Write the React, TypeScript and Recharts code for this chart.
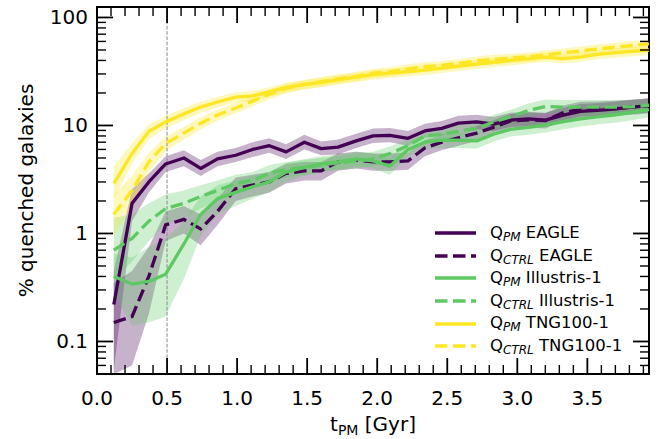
import React from 'react';
import { ComposedChart, Line, Area, XAxis, YAxis, ReferenceLine, ReferenceArea, Legend } from 'recharts';

// ---------- data ----------
const tPM = [0.12, 0.25, 0.37, 0.49, 0.62, 0.74, 0.86, 0.99, 1.11, 1.23, 1.35, 1.48, 1.60, 1.72, 1.85, 1.97,
  2.09, 2.22, 2.34, 2.46, 2.58, 2.71, 2.83, 2.95, 3.08, 3.20, 3.32, 3.45, 3.57, 3.69, 3.82, 3.94];

const eaglePM = [0.22, 1.9, 3.0, 4.4, 5.0, 4.0, 4.9, 5.3, 6.0, 6.5, 5.7, 7.0, 6.1, 6.3, 7.2, 8.0,
  8.1, 7.6, 8.9, 9.4, 10.5, 10.8, 10.3, 11.2, 11.5, 11.2, 12.4, 13.5, 13.8, 14.2, 14.8, 15.3];
const eaglePMLo = [0.055, 1.3, 2.4, 3.7, 4.2, 3.4, 4.2, 4.6, 5.1, 5.6, 4.9, 6.0, 5.3, 5.4, 6.2, 6.9,
  7.0, 6.5, 7.7, 8.1, 9.1, 9.3, 8.9, 9.7, 9.9, 9.7, 10.7, 11.7, 11.9, 12.3, 12.8, 13.2];
const eaglePMHi = [0.45, 2.6, 3.6, 5.2, 5.9, 4.8, 5.7, 6.2, 7.0, 7.6, 6.7, 8.2, 7.1, 7.4, 8.4, 9.4,
  9.5, 8.9, 10.4, 11.0, 12.3, 12.6, 12.0, 13.1, 13.4, 13.1, 14.5, 15.8, 16.1, 16.6, 17.3, 17.9];

const eagleCTRL = [0.15, 0.17, 0.4, 1.2, 1.35, 1.1, 1.6, 2.6, 2.8, 3.0, 3.6, 3.8, 3.8, 4.6, 4.8, 4.6,
  4.6, 4.7, 6.2, 7.0, 7.7, 8.5, 9.6, 11.0, 11.3, 11.1, 13.0, 14.2, 14.3, 14.5, 14.8, 15.2];
const eagleCTRLLo = [0.05, 0.06, 0.18, 0.85, 1.0, 0.78, 1.2, 2.0, 2.2, 2.4, 2.9, 3.1, 3.1, 3.8, 4.0, 3.8,
  3.8, 3.9, 5.2, 5.9, 6.5, 7.2, 8.1, 9.3, 9.6, 9.4, 11.0, 12.1, 12.2, 12.4, 12.6, 13.0];
const eagleCTRLHi = [0.35, 0.45, 0.75, 1.6, 1.8, 1.5, 2.1, 3.3, 3.5, 3.7, 4.4, 4.6, 4.6, 5.5, 5.7, 5.5,
  5.5, 5.6, 7.3, 8.2, 9.0, 9.9, 11.2, 12.8, 13.2, 13.0, 15.2, 16.6, 16.7, 16.9, 17.3, 17.8];

const illPM = [0.40, 0.34, 0.36, 0.42, 0.8, 1.5, 2.1, 2.4, 2.7, 3.0, 3.7, 4.1, 4.4, 4.6, 4.9, 4.7,
  4.2, 6.0, 7.0, 7.3, 7.3, 7.2, 8.3, 9.2, 9.6, 10.1, 10.8, 11.5, 12.0, 12.5, 13.2, 14.0];
const illPMLo = [0.28, 0.14, 0.15, 0.17, 0.38, 0.95, 1.5, 1.8, 2.1, 2.4, 3.0, 3.4, 3.7, 3.9, 4.2, 4.0,
  3.5, 5.1, 6.0, 6.2, 6.2, 6.1, 7.1, 7.9, 8.2, 8.6, 9.2, 9.8, 10.2, 10.6, 11.2, 11.9];
const illPMHi = [0.65, 0.6, 0.75, 0.9, 1.3, 2.2, 2.8, 3.1, 3.4, 3.7, 4.5, 4.9, 5.2, 5.4, 5.7, 5.5,
  5.0, 7.0, 8.2, 8.5, 8.5, 8.4, 9.7, 10.7, 11.2, 11.8, 12.6, 13.4, 14.0, 14.6, 15.4, 16.3];

const illCTRL = [0.7, 0.9, 1.3, 1.7, 1.9, 2.2, 2.5, 2.9, 3.1, 3.6, 3.9, 4.1, 4.3, 4.5, 4.7, 4.9,
  5.5, 6.5, 8.0, 8.3, 8.8, 9.4, 10.8, 12.0, 13.8, 15.0, 14.8, 14.8, 14.8, 14.8, 14.9, 15.4];
const illCTRLLo = [0.38, 0.55, 0.85, 1.2, 1.4, 1.7, 2.0, 2.4, 2.6, 3.0, 3.3, 3.5, 3.7, 3.9, 4.0, 4.2,
  4.7, 5.6, 6.9, 7.1, 7.6, 8.1, 9.3, 10.3, 11.9, 12.9, 12.7, 12.7, 12.7, 12.7, 12.8, 13.2];
const illCTRLHi = [1.4, 1.5, 1.9, 2.3, 2.5, 2.8, 3.1, 3.5, 3.7, 4.3, 4.6, 4.8, 5.0, 5.2, 5.5, 5.7,
  6.4, 7.5, 9.2, 9.6, 10.2, 10.9, 12.5, 13.9, 16.0, 17.4, 17.2, 17.2, 17.2, 17.2, 17.3, 17.9];

const tngPM = [2.9, 5.5, 8.8, 10.8, 12.8, 14.8, 16.5, 18.3, 18.8, 20.5, 22.5, 24, 25, 26.5, 28, 29.5,
  30.5, 31.5, 32.5, 34, 35.5, 37, 38.5, 40, 41.5, 43, 41.5, 43, 45.5, 47, 48.5, 50];
const tngPMLo = [2.1, 4.4, 7.5, 9.4, 11.2, 13.1, 14.7, 16.3, 16.8, 18.4, 20.2, 21.6, 22.5, 23.9, 25.2, 26.5,
  27.5, 28.4, 29.3, 30.6, 32.0, 33.3, 34.7, 36.0, 37.4, 38.7, 37.4, 38.7, 41.0, 42.3, 43.7, 45.0];
const tngPMHi = [4.2, 6.8, 10.2, 12.3, 14.5, 16.6, 18.4, 20.3, 20.8, 22.6, 24.8, 26.4, 27.5, 29.2, 30.8, 32.5,
  33.6, 34.7, 35.8, 37.4, 39.1, 40.7, 42.4, 44.0, 45.7, 47.3, 45.7, 47.3, 50.1, 51.7, 53.4, 55.0];

const tngCTRL = [1.5, 2.5, 4.6, 6.8, 8.5, 10.5, 12.5, 14.5, 16.8, 19.5, 22, 24, 25.5, 27, 28.5, 30.5,
  31.5, 33.5, 35, 36, 37.5, 39.5, 41, 42, 43, 45, 47, 49, 51, 53, 55, 57];
const tngCTRLLo = [0.95, 1.8, 3.7, 5.8, 7.4, 9.2, 11.1, 12.9, 15.0, 17.5, 19.8, 21.6, 23.0, 24.3, 25.7, 27.5,
  28.4, 30.2, 31.5, 32.4, 33.8, 35.6, 36.9, 37.8, 38.7, 40.5, 42.3, 44.1, 45.9, 47.7, 49.5, 51.3];
const tngCTRLHi = [2.3, 3.4, 5.6, 7.9, 9.7, 11.9, 14.0, 16.2, 18.7, 21.6, 24.2, 26.4, 28.1, 29.7, 31.4, 33.6,
  34.7, 36.9, 38.5, 39.6, 41.3, 43.5, 45.1, 46.2, 47.3, 49.5, 51.7, 53.9, 56.1, 58.3, 60.5, 62.7];

const xMajor = [0, 0.5, 1, 1.5, 2, 2.5, 3, 3.5];
const xMinor = [0.1, 0.2, 0.3, 0.4, 0.6, 0.7, 0.8, 0.9, 1.1, 1.2, 1.3, 1.4, 1.6, 1.7, 1.8, 1.9,
  2.1, 2.2, 2.3, 2.4, 2.6, 2.7, 2.8, 2.9, 3.1, 3.2, 3.3, 3.4, 3.6, 3.7, 3.8, 3.9];
const yMajor = [0.1, 1, 10, 100];
const yLabels = ['0.1', '1', '10', '100'];
const yMinor = [0.06, 0.07, 0.08, 0.09, 0.2, 0.3, 0.4, 0.5, 0.6, 0.7, 0.8, 0.9, 2, 3, 4, 5, 6, 7, 8, 9,
  20, 30, 40, 50, 60, 70, 80, 90];

// ---------- layout / styling ----------
const W = 670;
const H = 439;
const MARGIN = { top: 7, right: 21, bottom: 31, left: 37 };
const X_AXIS_H = 34;
const Y_AXIS_W = 60;
const PLOT_W = W - MARGIN.left - Y_AXIS_W - MARGIN.right;
const PLOT_H = H - MARGIN.top - MARGIN.bottom - X_AXIS_H;

const C_EAGLE = '#440154';
const C_ILL = '#5ec962';
const C_TNG = '#fde725';
const FONT = '"DejaVu Sans", sans-serif';
const DASH = '12.5 5.5';
const X_DOMAIN: [number, number] = [0, 3.94];
const Y_DOMAIN: [number, number] = [0.05, 125];
const MAJ = 16;
const MIN = 9;

// tick lengths (pixels) expressed in the axes' own units
const pxPerX = PLOT_W / (X_DOMAIN[1] - X_DOMAIN[0]);
const pxPerDecade = PLOT_H / Math.log10(Y_DOMAIN[1] / Y_DOMAIN[0]);
const xLen = (px: number) => px / pxPerX;
const yFac = (px: number) => Math.pow(10, px / pxPerDecade);

type Seg = { key: string; seg: [{ x: number; y: number }, { x: number; y: number }]; major: boolean };
const tickSegs: Seg[] = [];
[...xMajor, ...xMinor].forEach((v) => {
  const major = xMajor.includes(v);
  const len = major ? MAJ : MIN;
  tickSegs.push({ key: `xb${v}`, major, seg: [{ x: v, y: Y_DOMAIN[0] }, { x: v, y: Y_DOMAIN[0] * yFac(len) }] });
  tickSegs.push({ key: `xt${v}`, major, seg: [{ x: v, y: Y_DOMAIN[1] }, { x: v, y: Y_DOMAIN[1] / yFac(len) }] });
});
[...yMajor, ...yMinor].forEach((v) => {
  const major = yMajor.includes(v);
  const len = major ? MAJ : MIN;
  tickSegs.push({ key: `yl${v}`, major, seg: [{ x: X_DOMAIN[0], y: v }, { x: X_DOMAIN[0] + xLen(len), y: v }] });
  tickSegs.push({ key: `yr${v}`, major, seg: [{ x: X_DOMAIN[1], y: v }, { x: X_DOMAIN[1] - xLen(len), y: v }] });
});

const data = tPM.map((t, i) => ({
  t,
  ePM: eaglePM[i], ePMb: [eaglePMLo[i], eaglePMHi[i]],
  eCT: eagleCTRL[i], eCTb: [eagleCTRLLo[i], eagleCTRLHi[i]],
  iPM: illPM[i], iPMb: [illPMLo[i], illPMHi[i]],
  iCT: illCTRL[i], iCTb: [illCTRLLo[i], illCTRLHi[i]],
  nPM: tngPM[i], nPMb: [tngPMLo[i], tngPMHi[i]],
  nCT: tngCTRL[i], nCTb: [tngCTRLLo[i], tngCTRLHi[i]],
}));

const XLabelTick = (p: any) => (
  <text x={p.x} y={Number(p.y) + 31} textAnchor="middle" fontFamily={FONT} fontSize={20} fill="#000">
    {Number(p.payload.value).toFixed(1)}
  </text>
);

const YLabelTick = (p: any) => {
  const mi = yMajor.indexOf(p.payload.value);
  return (
    <text x={Number(p.x) - 9} y={Number(p.y) + 7} textAnchor="end" fontFamily={FONT} fontSize={20} fill="#000">
      {mi >= 0 ? yLabels[mi] : ''}
    </text>
  );
};

const XTitle = (p: any) => {
  const vb = p.viewBox;
  return (
    <text x={vb.x + vb.width / 2} y={431} textAnchor="middle" fontFamily={FONT} fontSize={20} fill="#000">
      <tspan>t</tspan>
      <tspan fontSize={14} dy={4}>PM</tspan>
      <tspan dy={-4}> [Gyr]</tspan>
    </text>
  );
};

const YTitle = (p: any) => {
  const vb = p.viewBox;
  const cy = vb.y + vb.height / 2;
  return (
    <text x={33} y={cy} transform={`rotate(-90 33 ${cy})`} textAnchor="middle" fontFamily={FONT} fontSize={20} fill="#000">
      % quenched galaxies
    </text>
  );
};

const legendRows = [
  { color: C_EAGLE, dashed: false, sub: 'PM', name: 'EAGLE' },
  { color: C_EAGLE, dashed: true, sub: 'CTRL', name: 'EAGLE' },
  { color: C_ILL, dashed: false, sub: 'PM', name: 'Illustris-1' },
  { color: C_ILL, dashed: true, sub: 'CTRL', name: 'Illustris-1' },
  { color: C_TNG, dashed: false, sub: 'PM', name: 'TNG100-1' },
  { color: C_TNG, dashed: true, sub: 'CTRL', name: 'TNG100-1' },
];

const LegendBox = () => (
  <div style={{ fontFamily: FONT, fontSize: 16.5, color: '#000', lineHeight: 1 }}>
    {legendRows.map((r, i) => (
      <div key={i} style={{ height: 22.6, display: 'flex', alignItems: 'center' }}>
        <svg width={60} height={10} style={{ display: 'block' }}>
          <line x1={5} y1={5} x2={46} y2={5} stroke={r.color} strokeWidth={3.3}
            strokeDasharray={r.dashed ? DASH : undefined} />
        </svg>
        <span style={{ whiteSpace: 'nowrap' }}>
          Q<span style={{ fontStyle: 'italic', fontSize: 12, position: 'relative', top: 3 }}>{r.sub}</span> {r.name}
        </span>
      </div>
    ))}
  </div>
);

export default function App() {
  return (
    <div style={{ position: 'absolute', left: 0, top: 0, width: W, height: H, background: '#fff' }}>
      <ComposedChart width={W} height={H} data={data} margin={MARGIN}>
        <XAxis xAxisId="b" dataKey="t" type="number" domain={X_DOMAIN} allowDataOverflow ticks={xMajor}
          interval={0} tickSize={0} tickMargin={0} tickLine={false} height={X_AXIS_H}
          axisLine={false} tick={XLabelTick} label={<XTitle />} />
        <YAxis yAxisId="l" type="number" scale="log" domain={Y_DOMAIN} allowDataOverflow ticks={yMajor}
          interval={0} tickSize={0} tickMargin={0} tickLine={false} width={Y_AXIS_W}
          axisLine={false} tick={YLabelTick} label={<YTitle />} />

        <ReferenceLine xAxisId="b" yAxisId="l" x={0.5} stroke="#8a8a8a" strokeWidth={1} strokeDasharray="3.7 1.6" />

        <Area xAxisId="b" yAxisId="l" dataKey="ePMb" type="linear" stroke="none" fill={C_EAGLE} fillOpacity={0.3} isAnimationActive={false} />
        <Line xAxisId="b" yAxisId="l" dataKey="ePM" type="linear" stroke={C_EAGLE} strokeWidth={3.3} dot={false} isAnimationActive={false} strokeLinejoin="round" />
        <Area xAxisId="b" yAxisId="l" dataKey="eCTb" type="linear" stroke="none" fill={C_EAGLE} fillOpacity={0.3} isAnimationActive={false} />
        <Line xAxisId="b" yAxisId="l" dataKey="eCT" type="linear" stroke={C_EAGLE} strokeWidth={3.3} strokeDasharray={DASH} dot={false} isAnimationActive={false} />

        <Area xAxisId="b" yAxisId="l" dataKey="iPMb" type="linear" stroke="none" fill={C_ILL} fillOpacity={0.3} isAnimationActive={false} />
        <Line xAxisId="b" yAxisId="l" dataKey="iPM" type="linear" stroke={C_ILL} strokeWidth={3.3} dot={false} isAnimationActive={false} strokeLinejoin="round" />
        <Area xAxisId="b" yAxisId="l" dataKey="iCTb" type="linear" stroke="none" fill={C_ILL} fillOpacity={0.3} isAnimationActive={false} />
        <Line xAxisId="b" yAxisId="l" dataKey="iCT" type="linear" stroke={C_ILL} strokeWidth={3.3} strokeDasharray={DASH} dot={false} isAnimationActive={false} />

        <Area xAxisId="b" yAxisId="l" dataKey="nPMb" type="linear" stroke="none" fill={C_TNG} fillOpacity={0.3} isAnimationActive={false} />
        <Line xAxisId="b" yAxisId="l" dataKey="nPM" type="linear" stroke={C_TNG} strokeWidth={3.3} dot={false} isAnimationActive={false} strokeLinejoin="round" />
        <Area xAxisId="b" yAxisId="l" dataKey="nCTb" type="linear" stroke="none" fill={C_TNG} fillOpacity={0.3} isAnimationActive={false} />
        <Line xAxisId="b" yAxisId="l" dataKey="nCT" type="linear" stroke={C_TNG} strokeWidth={3.3} strokeDasharray={DASH} dot={false} isAnimationActive={false} />

        {tickSegs.map((s) => (
          <ReferenceLine key={s.key} xAxisId="b" yAxisId="l" segment={s.seg} ifOverflow="visible"
            stroke="#000" strokeWidth={s.major ? 1.8 : 1.4} />
        ))}

        <ReferenceArea xAxisId="b" yAxisId="l" x1={X_DOMAIN[0]} x2={X_DOMAIN[1]} y1={Y_DOMAIN[0]} y2={Y_DOMAIN[1]}
          ifOverflow="visible" fill="none" fillOpacity={0} stroke="#000" strokeWidth={2} strokeOpacity={1} />

        <Legend layout="vertical" align="center" verticalAlign="middle" content={<LegendBox />}
          wrapperStyle={{ left: 430, top: 222, width: 230, height: 140 }} />
      </ComposedChart>
    </div>
  );
}
